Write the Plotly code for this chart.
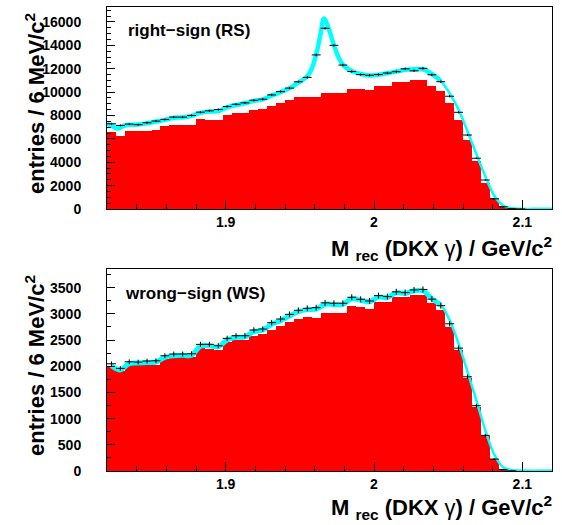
import numpy as np
import plotly.graph_objects as go
from plotly.subplots import make_subplots

# ---------------- data ----------------
bin_lo = 1.82
bin_w = 0.006
n_bins = 50
centers = bin_lo + bin_w * (np.arange(n_bins) + 0.5)

# right-sign (RS) panel
rs_data = [7290, 7150, 7260, 7210, 7380, 7520, 7660, 7860, 7860, 8000,
           8280, 8400, 8510, 8770, 8960, 9080, 9300, 9390, 9760, 10040,
           10340, 10880, 11260, 13180, 15460, 14000, 12310, 11760, 11500, 11440,
           11500, 11630, 11745, 11990, 11820, 12030, 11480, 10890, 9645, 8270,
           6326, 4340, 2480, 865, 185, 30, 5, 0, 0, 0]
rs_bkg = [6580, 6250, 6670, 6670, 6700, 6780, 7060, 7200, 7200, 7210,
          7720, 7630, 7630, 8080, 8200, 8200, 8510, 8520, 8850, 9050,
          9333, 9560, 9617, 9560, 9929, 9957, 9957, 10298, 10241, 10156,
          10525, 10525, 10840, 10890, 11035, 11035, 10553, 10128, 9050, 7574,
          5872, 4114, 2241, 964, 283, 20, 0, 0, 0, 0]
rs_fit_x = [1.820, 1.823, 1.827, 1.831, 1.835, 1.841, 1.847, 1.853, 1.859, 1.865,
            1.871, 1.877, 1.883, 1.889, 1.895, 1.901, 1.907, 1.913, 1.919, 1.925,
            1.931, 1.937, 1.943, 1.949, 1.955, 1.958, 1.961, 1.964, 1.9663, 1.969,
            1.973, 1.976, 1.979, 1.985, 1.991, 1.997, 2.003, 2.009, 2.015, 2.021,
            2.027, 2.033, 2.039, 2.045, 2.051, 2.057, 2.063, 2.069, 2.075, 2.081,
            2.087, 2.093, 2.099, 2.110, 2.120]
rs_fit_y = [7250, 7150, 6880, 7100, 7200, 7220, 7330, 7480, 7620, 7800,
            7830, 7960, 8220, 8340, 8380, 8700, 8900, 9040, 9250, 9380,
            9700, 10000, 10320, 10800, 11350, 12000, 13200, 15000, 16300, 15600,
            14000, 13000, 12350, 11800, 11550, 11430, 11480, 11620, 11760, 11900,
            11950, 11950, 11550, 10950, 9900, 8500, 6650, 4700, 2800, 1150,
            300, 60, 15, 10, 10]

# wrong-sign (WS) panel
ws_data = [2047, 1958, 2085, 2079, 2098, 2104, 2200, 2232, 2232, 2238,
           2417, 2417, 2391, 2532, 2582, 2582, 2691, 2710, 2831, 2901,
           2990, 3067, 3105, 3118, 3210, 3201, 3201, 3316, 3277, 3245,
           3347, 3328, 3420, 3405, 3456, 3465, 3280, 3156, 2810, 2345,
           1798, 1247, 680, 228, 26, 3, 0, 0, 0, 0]
ws_bkg = [1989, 1907, 2015, 2015, 2015, 2015, 2130, 2174, 2174, 2174,
          2340, 2321, 2308, 2455, 2487, 2487, 2563, 2614, 2691, 2754,
          2831, 2901, 2933, 2907, 3010, 3010, 3010, 3137, 3118, 3086,
          3213, 3213, 3316, 3316, 3360, 3360, 3201, 3073, 2742, 2295,
          1760, 1224, 664, 230, 26, 0, 0, 0, 0, 0]
ws_fit_x = [1.823, 1.829, 1.835, 1.841, 1.847, 1.853, 1.859, 1.865, 1.871, 1.877,
            1.883, 1.889, 1.895, 1.901, 1.907, 1.913, 1.919, 1.925, 1.931, 1.937,
            1.943, 1.949, 1.955, 1.961, 1.967, 1.973, 1.979, 1.985, 1.991, 1.997,
            2.003, 2.009, 2.015, 2.021, 2.027, 2.033, 2.039, 2.045, 2.051, 2.057,
            2.063, 2.069, 2.075, 2.081, 2.087, 2.093, 2.100, 2.120]
ws_fit_y = [2010, 1930, 2050, 2060, 2070, 2080, 2170, 2200, 2210, 2210,
            2380, 2390, 2370, 2500, 2550, 2560, 2660, 2690, 2800, 2870,
            2960, 3040, 3080, 3090, 3180, 3180, 3180, 3290, 3260, 3230,
            3320, 3310, 3400, 3390, 3440, 3440, 3290, 3170, 2880, 2430,
            1900, 1350, 780, 320, 70, 15, 8, 8]

x_ticks = [1.9, 2.0, 2.1]
x_range = [1.82, 2.12]
rs_yrange = [0, 17280]
ws_yrange = [0, 3850]

# ---------------- figure ----------------
FONT = "Liberation Sans"
fig = make_subplots(rows=2, cols=1, shared_xaxes=False, vertical_spacing=0.13)

CYAN = "#00ffff"


def add_panel(row, bkg, data, fx, fy, split_hi, split_lo, wide):
    fig.add_trace(go.Bar(x=centers, y=bkg, width=bin_w, marker=dict(color="#ff0000", line=dict(width=0)),
                         showlegend=False, hoverinfo="skip"), row=row, col=1)
    fig.add_trace(go.Scatter(x=fx[:split_hi + 1], y=fy[:split_hi + 1], mode="lines",
                             line=dict(color=CYAN, width=wide, shape="spline"), showlegend=False),
                  row=row, col=1)
    fig.add_trace(go.Scatter(x=fx[split_lo:], y=fy[split_lo:], mode="lines",
                             line=dict(color=CYAN, width=2.5, shape="spline"), showlegend=False),
                  row=row, col=1)
    d = np.array(data, dtype=float)
    mask = d > 0
    fig.add_trace(go.Scatter(x=centers[mask], y=d[mask], mode="markers",
                             marker=dict(size=1, color="black"),
                             error_x=dict(type="constant", value=bin_w / 2, color="black", thickness=1, width=0),
                             error_y=dict(type="data", array=np.sqrt(d[mask]), color="black", thickness=1, width=0),
                             showlegend=False), row=row, col=1)


add_panel(1, rs_bkg, rs_data, rs_fit_x, rs_fit_y, 43, 42, 4.5)
add_panel(2, ws_bkg, ws_data, ws_fit_x, ws_fit_y, 37, 36, 5)

tickfont = dict(family=FONT, size=14, color="black", weight="bold")

for r, yr, dt, mdt in [(1, rs_yrange, 2000, 500), (2, ws_yrange, 500, 250)]:
    fig.update_xaxes(row=r, col=1, range=x_range, tickmode="linear", tick0=1.9, dtick=0.1,
                     ticks="inside", ticklen=9, tickcolor="black", tickwidth=1,
                     minor=dict(dtick=0.02, tick0=1.82, ticks="inside", ticklen=5, tickcolor="black"),
                     showline=True, linecolor="black", linewidth=1, mirror=True,
                     showgrid=False, zeroline=False, tickfont=tickfont, ticklabelstandoff=0)
    fig.update_yaxes(row=r, col=1, range=yr, tickmode="linear", tick0=0, dtick=dt, tickformat="d",
                     ticks="inside", ticklen=8, tickcolor="black", tickwidth=1,
                     minor=dict(dtick=mdt, ticks="inside", ticklen=4, tickcolor="black"),
                     showline=True, linecolor="black", linewidth=1, mirror=True,
                     showgrid=False, zeroline=False, tickfont=tickfont, ticklabelstandoff=22)

fig.update_xaxes(row=1, col=1, domain=[0, 1])
fig.update_yaxes(row=1, col=1, domain=[0.5647, 1.0])
fig.update_yaxes(row=2, col=1, domain=[0.0, 0.4347])

ytitle = "<b>entries / 6 MeV/c<sup>2</sup></b>"
xtitle = "<b>M <sub>rec</sub> (DKX </b>γ<b>) / GeV/c<sup>2</sup></b>"


# paper coords: x -> (px-107)/445 ; y -> (471-py)/464
def px2x(px):
    return (px - 107) / 445.0


def py2y(py):
    return (471 - py) / 464.0


annotations = [
    dict(text=ytitle, x=px2x(35), y=py2y(104), textangle=-90, font=dict(family=FONT, size=22, color="black")),
    dict(text=ytitle, x=px2x(35), y=py2y(366), textangle=-90, font=dict(family=FONT, size=22, color="black")),
    dict(text=xtitle, x=px2x(554), y=py2y(248), xanchor="right", font=dict(family=FONT, size=22, color="black")),
    dict(text=xtitle, x=px2x(554), y=py2y(508), xanchor="right", font=dict(family=FONT, size=22, color="black")),
]
for a in annotations:
    a.update(xref="paper", yref="paper", showarrow=False)
    a.setdefault("xanchor", "center")
    a["yanchor"] = "middle"

annotations += [
    dict(text="<b>right−sign (RS)</b>", x=px2x(126), y=py2y(31), xanchor="left", yanchor="middle",
         xref="paper", yref="paper", showarrow=False, font=dict(family=FONT, size=17, color="black")),
    dict(text="<b>wrong−sign (WS)</b>", x=px2x(123), y=py2y(293), xanchor="left", yanchor="middle",
         xref="paper", yref="paper", showarrow=False, font=dict(family=FONT, size=17, color="black")),
]

fig.update_layout(width=562, height=525, margin=dict(l=107, r=10, t=7, b=54),
                  paper_bgcolor="white", plot_bgcolor="white", bargap=0,
                  annotations=annotations, showlegend=False)

fig.write_html("out.html", config={"displayModeBar": False},
               post_script="document.body.style.margin='0px';document.body.style.overflow='hidden';")
